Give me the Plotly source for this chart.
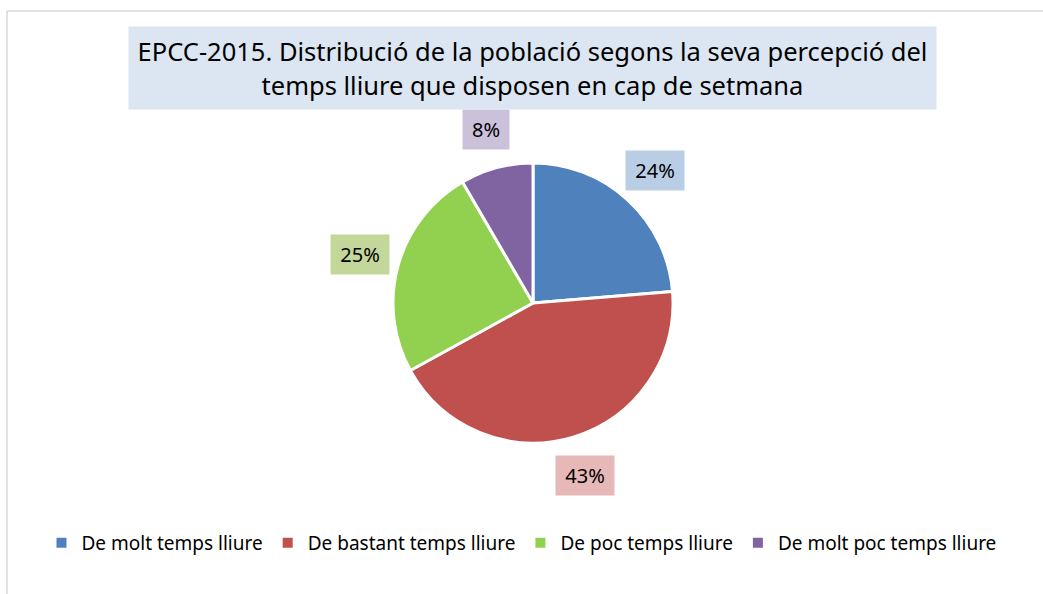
import math
import plotly.graph_objects as go

categories = ["De molt temps lliure", "De bastant temps lliure", "De poc temps lliure", "De molt poc temps lliure"]
values = [23.7, 43.3, 24.6, 8.4]
colors = ["#4f81bd", "#c0504d", "#92d050", "#8064a2"]
label_bg = ["#b9cde5", "#e6b9b8", "#c4d79b", "#ccc1da"]
title_text = "EPCC-2015. Distribució de la població segons la seva percepció del<br>temps lliure que disposen en cap de setmana"

W, H = 1043, 594
FONT = "Noto Sans"

# pie geometry (pixels)
cx, cy, r = 533, 303, 140
dom_x = [(cx - r) / W, (cx + r) / W]
dom_y = [1 - (cy + r) / H, 1 - (cy - r) / H]

fig = go.Figure()
fig.add_trace(go.Pie(
    labels=categories, values=values, sort=False, direction="clockwise", rotation=0,
    marker=dict(colors=colors, line=dict(color="white", width=3)),
    textinfo="none", hoverinfo="label+percent",
    domain=dict(x=dom_x, y=dom_y),
))

# data labels placed along each slice's mid-angle
total = sum(values)
cum = 0
annotations = []
label_r = 180
for v, bg in zip(values, label_bg):
    mid = (cum + v / 2) / total * 2 * math.pi
    cum += v
    px = cx + label_r * math.sin(mid)
    py = cy - label_r * math.cos(mid)
    annotations.append(dict(
        x=px / W, y=1 - py / H, xref="paper", yref="paper",
        text=f"{round(v / total * 100)}%", showarrow=False,
        font=dict(family=FONT, size=20, color="#000000"),
        bgcolor=bg, borderpad=4, width=50 if v / total >= 0.095 else 38, height=31,
        xanchor="center", yanchor="middle",
    ))

annotations.append(dict(
    x=532.5 / W, y=1 - 68 / H, xref="paper", yref="paper",
    text=title_text, showarrow=False, align="center",
    font=dict(family=FONT, size=25.5, color="#000000"),
    bgcolor="#dce6f2", width=805, height=80,
    xanchor="center", yanchor="middle",
))

fig.update_layout(
    width=W, height=H,
    margin=dict(l=0, r=0, t=0, b=0),
    paper_bgcolor="white", plot_bgcolor="white",
    annotations=annotations,
    showlegend=True,
    legend=dict(
        orientation="h", x=0.5, xanchor="center", y=1 - 543 / H, yanchor="middle",
        font=dict(family=FONT, size=19, color="#000000"),
        itemsizing="constant", traceorder="normal",
    ),
    shapes=[
        dict(type="line", xref="paper", yref="paper", x0=7 / W, x1=1, y0=1 - 11 / H, y1=1 - 11 / H,
             line=dict(color="#d9d9d9", width=1.5)),
        dict(type="line", xref="paper", yref="paper", x0=7 / W, x1=7 / W, y0=0, y1=1 - 11 / H,
             line=dict(color="#d9d9d9", width=1.5)),
    ],
)

fig.write_html("out.html", config={"displayModeBar": False},
               post_script="document.body.style.margin='0';document.body.style.overflow='hidden';")
